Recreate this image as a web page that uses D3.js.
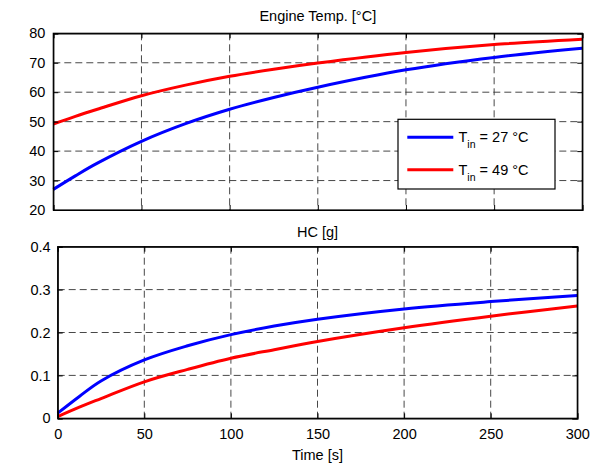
<!DOCTYPE html>
<html>
<head>
<meta charset="utf-8">
<script src="https://cdn.jsdelivr.net/npm/d3@7"></script>
<style>
  body { margin: 0; background: #fff; }
  svg { font-family: "Liberation Sans", Arial, sans-serif; }
</style>
</head>
<body>
<svg id="chart" width="594" height="463"></svg>
<script>
// time samples [s]
const time = [0, 12.5, 25, 50, 75, 100, 125, 150, 200, 250, 300];

// engine temperature [°C]
const tempCold = [27, 31.6, 35.9, 43.3, 49.3, 54.2, 58.2, 61.7, 67.6, 71.8, 74.9];
const tempWarm = [49.2, 51.8, 54.2, 58.8, 62.4, 65.4, 67.8, 69.9, 73.5, 76.2, 78];

// cumulative HC [g]
const hcCold = [0.012, 0.051, 0.087, 0.136, 0.169, 0.195, 0.215, 0.231, 0.255, 0.272, 0.286];
const hcWarm = [0.004, 0.026, 0.046, 0.085, 0.114, 0.14, 0.16, 0.179, 0.211, 0.238, 0.262];

const xTicks = [0, 50, 100, 150, 200, 250, 300];
const tempTicks = [20, 30, 40, 50, 60, 70, 80];
const hcTicks = [0, 0.1, 0.2, 0.3, 0.4];
const legendLabels = [{ t: "27" }, { t: "49" }];
const colors = ["#0000ff", "#ff0000"];

const svg = d3.select("#chart");
const fontSize = 14.5;

function panel(opt) {
  const x = d3.scaleLinear().domain([0, 300]).range([opt.left, opt.right]);
  const y = d3.scaleLinear().domain(opt.yDomain).range([opt.bottom, opt.top]);
  const g = svg.append("g");

  // dashed grid
  g.append("g").selectAll("line.gx")
    .data(xTicks.slice(1, -1))
    .enter().append("line")
    .attr("x1", d => x(d)).attr("x2", d => x(d))
    .attr("y1", opt.top).attr("y2", opt.bottom)
    .attr("stroke", "#333").attr("stroke-width", 0.9)
    .attr("stroke-dasharray", "7,4");
  g.append("g").selectAll("line.gy")
    .data(opt.yTicks.slice(1, -1))
    .enter().append("line")
    .attr("x1", opt.left).attr("x2", opt.right)
    .attr("y1", d => y(d)).attr("y2", d => y(d))
    .attr("stroke", "#333").attr("stroke-width", 0.9)
    .attr("stroke-dasharray", "7,4");

  // data lines
  const line = d3.line()
    .x((d, i) => x(time[i]))
    .y(d => y(d))
    .curve(d3.curveCatmullRom.alpha(0.5));
  opt.series.forEach((s, i) => {
    g.append("path")
      .datum(s)
      .attr("d", line)
      .attr("fill", "none")
      .attr("stroke", colors[i])
      .attr("stroke-width", 3);
  });

  // axes, ticks pointing inward on all sides
  const bottomAxis = d3.axisBottom(x).tickValues(xTicks).tickSize(-5).tickPadding(8);
  if (!opt.xLabels) bottomAxis.tickFormat("");
  const ax = g.append("g")
    .attr("transform", `translate(0,${opt.bottom})`)
    .call(bottomAxis);
  g.append("g")
    .attr("transform", `translate(0,${opt.top})`)
    .call(d3.axisTop(x).tickValues(xTicks).tickSize(-5).tickFormat(""));
  g.append("g")
    .attr("transform", `translate(${opt.left},0)`)
    .call(d3.axisLeft(y).tickValues(opt.yTicks).tickSize(-5).tickPadding(opt.yPad).tickFormat(opt.yFormat));
  g.append("g")
    .attr("transform", `translate(${opt.right},0)`)
    .call(d3.axisRight(y).tickValues(opt.yTicks).tickSize(-5).tickFormat(""));

  g.selectAll(".domain").attr("stroke", "#000").attr("stroke-width", 1.2);
  g.selectAll(".tick line").attr("stroke", "#000");
  g.selectAll(".tick text")
    .attr("fill", "#000")
    .style("font-size", fontSize + "px")
    .style("font-family", "Liberation Sans, Arial, sans-serif");
  ax.selectAll(".tick text").attr("dy", "0.9em");

  g.append("rect")
    .attr("x", opt.left).attr("y", opt.top)
    .attr("width", opt.right - opt.left).attr("height", opt.bottom - opt.top)
    .attr("fill", "none").attr("stroke", "#000").attr("stroke-width", 1.2);

  // title
  svg.append("text")
    .attr("x", (opt.left + opt.right) / 2)
    .attr("y", opt.titleY)
    .attr("text-anchor", "middle")
    .style("font-size", fontSize + "px")
    .text(opt.title);

  return { x, y, g };
}

const tempPanel = panel({
  left: 53.3, right: 582.3, top: 33.3, bottom: 210,
  yDomain: [20, 80], yTicks: tempTicks, yFormat: d3.format("d"), yPad: 8,
  series: [tempCold, tempWarm], xLabels: false,
  title: "Engine Temp. [°C]", titleY: 21
});

const hcPanel = panel({
  left: 57.7, right: 577.3, top: 246.7, bottom: 418.3,
  yDomain: [0, 0.4], yTicks: hcTicks, yFormat: d => d === 0 ? "0" : d3.format(".1f")(d), yPad: 7,
  series: [hcCold, hcWarm], xLabels: true,
  title: "HC [g]", titleY: 236.5
});

svg.append("text")
  .attr("x", (57.7 + 577.3) / 2)
  .attr("y", 460)
  .attr("text-anchor", "middle")
  .style("font-size", fontSize + "px")
  .text("Time [s]");

// legend
const lg = svg.append("g").attr("transform", "translate(398,119.3)");
lg.append("rect")
  .attr("width", 157).attr("height", 69.7)
  .attr("fill", "#fff").attr("stroke", "#000").attr("stroke-width", 1.2);
legendLabels.forEach((d, i) => {
  const yy = 18 + i * 32.4;
  lg.append("line")
    .attr("x1", 9.3).attr("x2", 55.3)
    .attr("y1", yy).attr("y2", yy)
    .attr("stroke", colors[i]).attr("stroke-width", 3);
  const t = lg.append("text")
    .attr("x", 60.5).attr("y", yy + 5)
    .style("font-size", fontSize + "px");
  t.append("tspan").text("T");
  t.append("tspan").attr("dy", 6).style("font-size", "10.5px").text("in");
  t.append("tspan").attr("dy", -6).text(` = ${d.t} °C`);
});
</script>
</body>
</html>
